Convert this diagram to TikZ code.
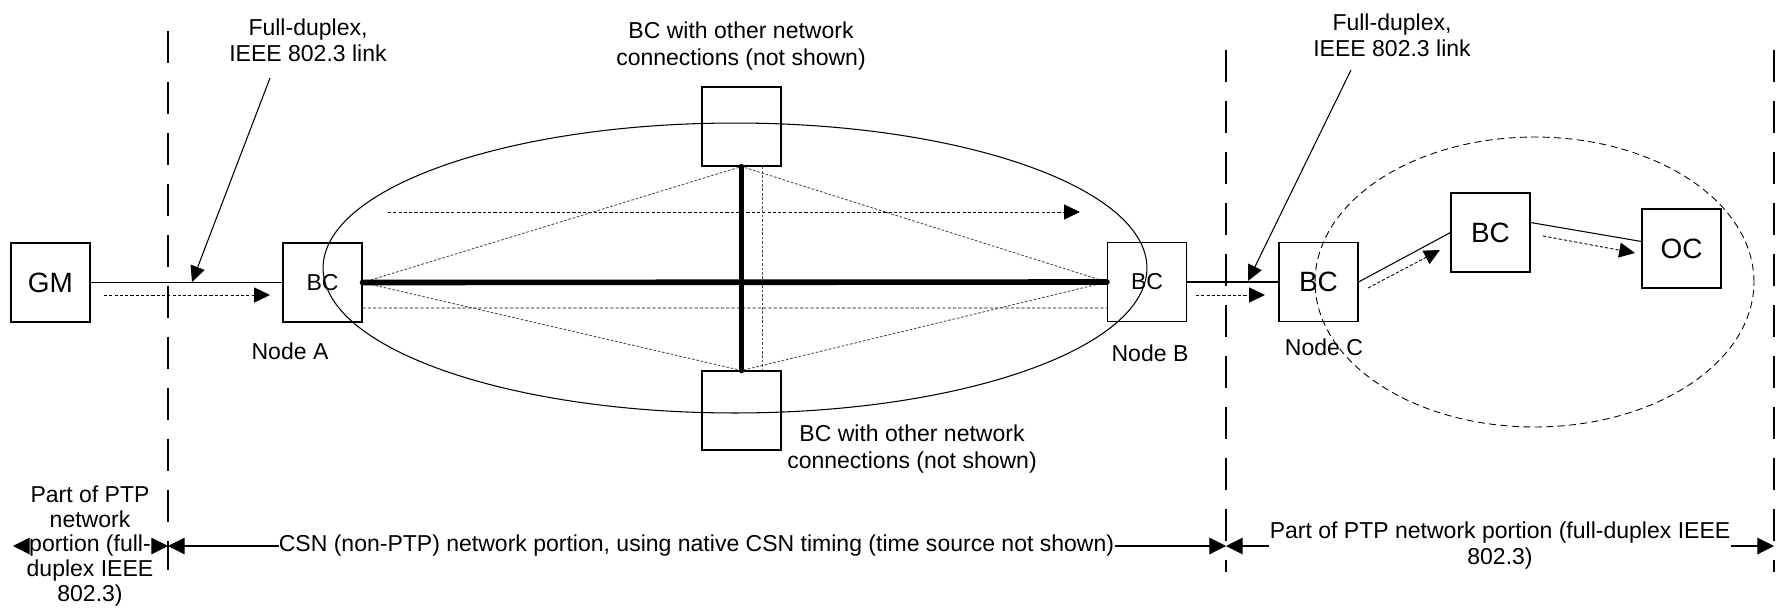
\documentclass[tikz,border=0pt]{standalone}
\usepackage{fontspec}
\setmainfont{Liberation Sans}
\usetikzlibrary{arrows.meta,calc}

\tikzset{
  nodebox/.style={draw, line width=0.6pt, minimum width=1.58cm, minimum height=1.58cm, inner sep=0pt},
  txt/.style={font=\fontsize{13.1}{14.2}\selectfont},
  big/.style={font=\fontsize{15.9}{19}\selectfont},
  lbl/.style={align=center, inner sep=0pt, font=\fontsize{13.1}{14.8}\selectfont},
  sep/.style={line width=1pt, dash pattern=on 18.2pt off 10.8pt},
  link/.style={line width=0.6pt},
  flow/.style={line width=0.5pt, dash pattern=on 1.8pt off 1.2pt},
  diag/.style={line width=0.5pt, gray!60!black, dash pattern=on 1.5pt off 1pt},
  fat/.style={line width=3.2pt, line cap=round},
  tip/.style={-{Triangle[length=9pt,width=8.5pt]}},
  dimtip/.style={-{Triangle[length=9.5pt,width=9.5pt]}},
}

\begin{document}
\begin{tikzpicture}[x=0.02cm, y=-0.02cm]
  \useasboundingbox (0,0) rectangle (1779,613);

  % the two clouds
  \draw[line width=0.6pt] (735,268) ellipse [x radius=8.24cm, y radius=2.9cm];
  \draw[line width=0.5pt, dash pattern=on 4pt off 2.5pt] (1534.5,282) ellipse [x radius=4.39cm, y radius=2.9cm];

  % clocks
  \node[nodebox, big] (GM) at (50.5,282.5) {GM};
  \node[nodebox, txt] (BCA) at (322.5,282.5) {BC};
  \node[nodebox, txt] (BCB) at (1147,282) {BC};
  \node[nodebox, big] (BCC) at (1318.5,282) {BC};
  \node[nodebox, big] (BCD) at (1490.5,232.5) {BC};
  \node[nodebox, big] (OC) at (1681.5,248.5) {OC};
  \node[nodebox] (top) at (741.5,126.5) {};
  \node[nodebox] (bot) at (741.5,410.5) {};

  \node[txt] (nA) at (290,351) {Node A};
  \node[txt] (nB) at (1150,353) {Node B};
  \node[txt] (nC) at (1324,347) {Node C};

  \node[lbl] (fdA) at (308,40) {Full-duplex,\\IEEE 802.3 link};
  \node[lbl] (fdC) at (1392,35) {Full-duplex,\\IEEE 802.3 link};
  \node[lbl, font=\fontsize{13.1}{15.6}\selectfont] (oth1) at (741,46) {BC with other network\\connections (not shown)};
  \node[lbl, font=\fontsize{13.1}{15.6}\selectfont] (oth2) at (912,449) {BC with other network\\connections (not shown)};

  % separators
  \foreach \x/\a/\b in {168/31/570, 1226/50/572, 1774/50/572}
    \draw[sep] (\x,\a) -- (\x,\b);

  % PTP links
  \draw[link] (GM.east) -- (BCA.west);
  \draw[link] (BCB.east) -- (BCC.west);
  \draw[link] (BCC.east) -- (BCD.west);
  \draw[link] ($(BCD.east)+(0,-10)$) -- ($(OC.west)+(0,-7)$);

  \coordinate (fA) at (270,78);
  \coordinate (kA) at (192,282);
  \coordinate (fC) at (1351,70);
  \coordinate (kC) at (1248,281);
  \draw[link, tip] (fA) -- (kA);
  \draw[link, tip] (fC) -- (kC);

  % timing flow
  \coordinate (a1) at (104,295);
  \coordinate (a2) at (270,295);
  \coordinate (b1) at (1196,295);
  \coordinate (b2) at (1265,295);
  \coordinate (c1) at (1368,288);
  \coordinate (c2) at (1440,250);
  \coordinate (d1) at (1543,236);
  \coordinate (d2) at (1635,253);
  \coordinate (u1) at (388,212);
  \coordinate (u2) at (1080,212);
  \draw[flow, tip] (a1) -- (a2);
  \draw[flow, tip] (b1) -- (b2);
  \draw[flow, tip] (c1) -- (c2);
  \draw[flow, tip] (d1) -- (d2);
  \draw[flow, tip] (u1) -- (u2);
  \draw[flow] ($(BCA.east)+(0,25.5)$) -- ($(BCB.west)+(0,26)$);

  % CSN mesh
  \draw[diag] (BCA.east) -- (top.south) -- (BCB.west);
  \draw[diag] (BCA.east) -- (bot.north) -- (BCB.west);
  \draw[diag] ($(top.south)+(21,0)$) -- ($(bot.north)+(21,0)$);
  \draw[fat] (BCA.east) -- (BCB.west);
  \draw[fat] (top.south) -- (bot.north);

  % portions
  \coordinate (le) at (13,546);
  \coordinate (s1) at (168,546);
  \coordinate (s2) at (1226,546);
  \coordinate (s3) at (1774,546);
  \node[lbl, font=\fontsize{13.1}{14}\selectfont] (ptpL) at (90,546) {Part of PTP\\network\\portion (full-\\duplex IEEE\\802.3)};
  \node[lbl] (csn) at (696.5,546) {CSN (non-PTP) network portion, using native CSN timing (time source not shown)};
  \node[lbl] (ptpR) at (1500,546) {Part of PTP network portion (full-duplex IEEE\\802.3)};
  \draw[link, dimtip] (ptpL.west) -- (le);
  \draw[link, dimtip] (ptpL.east) -- (s1);
  \draw[link, dimtip] (csn.west) -- (s1);
  \draw[link, dimtip] (csn.east) -- (s2);
  \draw[link, dimtip] (ptpR.west) -- (s2);
  \draw[link, dimtip] (ptpR.east) -- (s3);
\end{tikzpicture}
\end{document}
